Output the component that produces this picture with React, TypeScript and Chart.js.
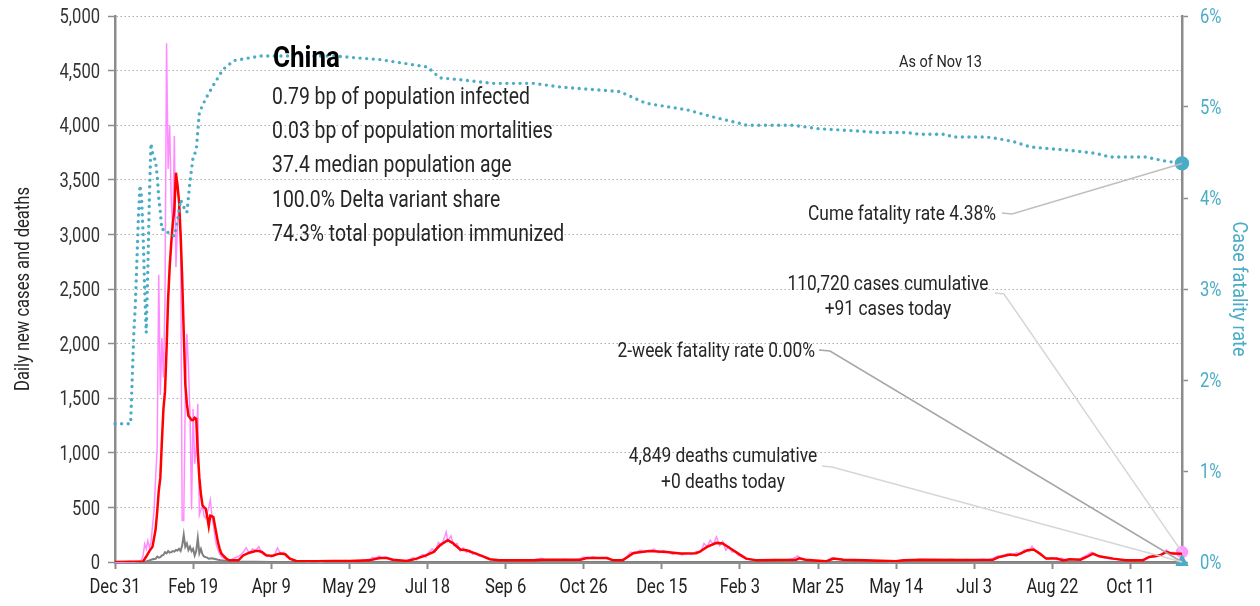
import React, { useEffect, useRef } from 'react';
import { Chart, registerables } from 'chart.js';

Chart.register(...registerables);

const FONT = 'Roboto, "Liberation Sans", "DejaVu Sans", sans-serif';

// Day index 0 = Dec 31, 2019
const START_UTC = Date.UTC(2019, 11, 31);
const LAST_DAY = 683; // Nov 13, 2021
const MONTHS = ['Jan', 'Feb', 'Mar', 'Apr', 'May', 'Jun', 'Jul', 'Aug', 'Sep', 'Oct', 'Nov', 'Dec'];

const X_TICK_STEP = 50;
const Y_LEFT_MAX = 5000;
const Y_LEFT_STEP = 500;
const Y_RIGHT_MAX = 6;
const Y_RIGHT_STEP = 1;

// [day, daily new cases]
const dailyCases: [number, number][] = [
  [0, 0], [3, 2], [6, 0], [9, 4], [12, 2], [15, 6], [17, 18], [18, 60], [19, 165], [20, 120], [21, 195], [22, 130],
  [23, 180], [24, 330], [25, 470], [26, 770], [27, 1050], [28, 2630], [29, 1530], [30, 2050], [31, 1690], [32, 2400],
  [33, 4750], [34, 3600], [35, 4000], [36, 3300], [37, 3050], [38, 3900], [39, 2700], [40, 3100], [41, 3300], [42, 2950],
  [43, 380], [44, 380], [45, 1500], [46, 2090], [47, 1800], [48, 1350], [49, 480], [50, 1400], [51, 900], [52, 1050],
  [53, 1450], [54, 430], [55, 480], [56, 510], [57, 420], [58, 400], [59, 450], [60, 500], [61, 570], [62, 430],
  [63, 340], [64, 230], [65, 150], [66, 110], [67, 75], [68, 50], [69, 40], [70, 30], [72, 20], [74, 15], [76, 35],
  [78, 45], [80, 60], [82, 90], [84, 130], [86, 80], [88, 120], [90, 105], [92, 140], [94, 85], [96, 60], [98, 70],
  [100, 45], [102, 60], [104, 130], [106, 75], [108, 90], [110, 45], [112, 25], [114, 15], [117, 5], [120, 10],
  [124, 4], [128, 8], [132, 3], [136, 12], [140, 6], [144, 10], [148, 14], [152, 5], [156, 10], [160, 18], [163, 25],
  [165, 45], [167, 30], [169, 55], [171, 35], [173, 45], [175, 30], [177, 15], [180, 10], [183, 8], [186, 12],
  [189, 25], [191, 40], [193, 20], [195, 50], [197, 70], [199, 45], [201, 90], [203, 120], [205, 95], [207, 180],
  [209, 150], [211, 230], [212, 275], [213, 190], [215, 240], [217, 150], [219, 170], [221, 100], [223, 130],
  [225, 90], [227, 110], [229, 70], [231, 85], [233, 55], [235, 60], [237, 35], [240, 25], [243, 15], [246, 20],
  [250, 10], [254, 18], [258, 12], [262, 20], [266, 10], [270, 25], [273, 35], [276, 15], [280, 22], [284, 18],
  [288, 25], [292, 15], [296, 22], [300, 45], [303, 30], [306, 50], [309, 35], [312, 40], [315, 30], [318, 15],
  [321, 12], [324, 20], [327, 40], [330, 90], [333, 75], [336, 110], [339, 95], [342, 100], [345, 120], [348, 85],
  [351, 105], [354, 90], [357, 70], [360, 85], [363, 65], [366, 80], [369, 70], [372, 95], [375, 90], [377, 170],
  [379, 140], [381, 200], [383, 160], [385, 230], [387, 150], [389, 190], [391, 110], [393, 140], [395, 90],
  [397, 100], [399, 60], [401, 50], [404, 30], [407, 20], [410, 15], [414, 18], [418, 10], [422, 22], [426, 15],
  [430, 20], [434, 30], [437, 55], [440, 25], [444, 15], [448, 10], [452, 5], [456, 12], [459, 40], [462, 25],
  [465, 30], [468, 15], [472, 20], [476, 10], [480, 18], [485, 8], [490, 12], [495, 5], [500, 10], [505, 20],
  [510, 15], [515, 25], [520, 18], [525, 22], [530, 15], [535, 25], [540, 18], [545, 22], [550, 15], [555, 25],
  [559, 20], [562, 35], [565, 55], [568, 45], [571, 75], [574, 60], [577, 85], [580, 70], [582, 110], [585, 95],
  [587, 145], [589, 100], [591, 90], [593, 60], [595, 45], [597, 25], [600, 40], [603, 20], [606, 35], [609, 15],
  [612, 30], [615, 20], [618, 30], [621, 55], [623, 70], [625, 90], [627, 65], [629, 60], [632, 40], [635, 35],
  [638, 25], [641, 30], [644, 15], [648, 20], [652, 10], [656, 15], [660, 35], [663, 50], [666, 45], [669, 65],
  [671, 80], [673, 110], [675, 70], [677, 90], [679, 75], [681, 85], [683, 91],
];

// [day, 7-day average of new cases]
const cases7dAvg: [number, number][] = [
  [0, 0], [10, 2], [18, 5], [20, 50], [22, 100], [24, 140], [26, 300], [27, 460], [28, 650], [29, 770], [30, 1100],
  [31, 1400], [32, 1560], [33, 1950], [34, 2410], [35, 2700], [36, 2920], [37, 3100], [38, 3230], [39, 3565],
  [40, 3450], [41, 3300], [42, 3000], [43, 2600], [44, 2100], [45, 1625], [46, 1450], [47, 1340], [48, 1320],
  [49, 1300], [50, 1300], [51, 1320], [52, 1310], [53, 1000], [54, 770], [55, 620], [56, 520], [57, 500], [58, 490],
  [59, 420], [60, 330], [61, 425], [62, 420], [63, 410], [64, 330], [65, 250], [66, 175], [67, 120], [68, 80],
  [69, 63], [71, 35], [73, 16], [76, 15], [79, 15], [82, 60], [86, 85], [90, 100], [92, 100], [94, 92], [97, 60],
  [101, 58], [104, 72], [106, 78], [109, 71], [112, 31], [116, 9], [129, 6], [140, 9], [150, 9], [163, 15],
  [167, 30], [170, 37], [174, 37], [178, 21], [187, 9], [193, 31], [199, 60], [204, 92], [208, 153], [213, 200],
  [216, 175], [221, 114], [225, 107], [231, 77], [236, 50], [240, 25], [246, 15], [268, 15], [274, 21], [298, 21],
  [302, 37], [315, 37], [319, 15], [325, 15], [332, 83], [342, 101], [353, 92], [362, 77], [372, 80], [374, 92],
  [379, 138], [385, 175], [389, 169], [394, 123], [399, 77], [404, 31], [411, 15], [436, 21], [438, 34], [442, 20],
  [455, 6], [460, 31], [466, 21], [480, 15], [500, 6], [505, 15], [517, 21], [540, 18], [562, 21], [566, 46],
  [573, 68], [577, 61], [584, 107], [588, 114], [592, 77], [596, 31], [603, 31], [607, 15], [611, 25], [618, 21],
  [622, 46], [626, 77], [630, 52], [639, 31], [647, 15], [658, 15], [662, 46], [669, 61], [673, 92], [677, 77],
  [683, 75],
];

// [day, daily new deaths]
const dailyDeaths: [number, number][] = [
  [0, 0], [10, 0], [18, 2], [20, 5], [22, 15], [24, 25], [26, 30], [27, 50], [28, 40], [29, 45], [30, 60], [31, 65],
  [32, 90], [33, 80], [34, 100], [35, 85], [36, 90], [37, 100], [38, 95], [39, 110], [40, 105], [41, 120], [42, 100],
  [43, 150], [44, 250], [45, 140], [46, 170], [47, 110], [48, 140], [49, 100], [50, 120], [51, 60], [52, 100],
  [53, 220], [54, 80], [55, 120], [56, 70], [57, 50], [58, 45], [59, 40], [60, 30], [62, 35], [64, 28], [66, 20],
  [68, 15], [70, 12], [72, 8], [74, 5], [76, 4], [80, 3], [90, 2], [100, 1], [683, 0],
];

// [day, cumulative case fatality rate %]
const cumeFatalityPct: [number, number][] = [
  [0, 1.52], [10, 1.52], [11, 2.0], [12, 2.5], [13, 2.82], [14, 3.3], [15, 3.8], [16, 4.14], [17, 4.0], [18, 3.6],
  [19, 3.0], [20, 2.52], [21, 3.2], [22, 4.0], [23, 4.6], [24, 4.5], [25, 4.45], [26, 4.4], [27, 4.25], [28, 4.0],
  [29, 3.85], [30, 3.65], [32, 3.66], [34, 3.62], [36, 3.6], [38, 3.58], [40, 3.75], [42, 3.98], [44, 3.9],
  [46, 3.84], [48, 4.18], [50, 4.45], [52, 4.52], [54, 4.94], [58, 5.09], [63, 5.24], [69, 5.41], [76, 5.51],
  [93, 5.56], [140, 5.56], [170, 5.52], [200, 5.44], [208, 5.32], [221, 5.3], [242, 5.26], [268, 5.26],
  [285, 5.22], [323, 5.17], [340, 5.04], [366, 4.97], [383, 4.89], [400, 4.82], [404, 4.8], [434, 4.8],
  [451, 4.76], [472, 4.74], [488, 4.72], [507, 4.72], [515, 4.7], [532, 4.7], [536, 4.67], [558, 4.67],
  [566, 4.65], [575, 4.62], [586, 4.56], [600, 4.54], [613, 4.52], [628, 4.49], [637, 4.45], [660, 4.45],
  [671, 4.41], [683, 4.38],
];

// [day, 2-week fatality rate %]
const twoWeekFatalityPct: [number, number][] = [[683, 0]];

const COUNTRY = 'China';
const statLines = [
  '0.79 bp of population infected',
  '0.03 bp of population mortalities',
  '37.4 median population age',
  '100.0% Delta variant share',
  '74.3% total population immunized',
];
const asOfLabel = 'As of Nov 13';
const cumeLabel = 'Cume fatality rate 4.38%';
const casesLabel = ['110,720 cases cumulative', '+91 cases today'];
const twoWeekLabel = '2-week fatality rate 0.00%';
const deathsLabel = ['4,849 deaths cumulative', '+0 deaths today'];
const leftTitle = 'Daily new cases and deaths';
const rightTitle = 'Case fatality rate';

const TEAL = '#4BACC6';
const PINK = '#FF8CFF';
const RED = '#FF0000';
const GRAY = '#7F7F7F';
const AXIS = '#8C8C8C';
const TEXT = '#262626';

const toXY = (arr: [number, number][]) => arr.map(([x, y]) => ({ x, y }));

const dayLabel = (d: number) => {
  const dt = new Date(START_UTC + d * 86400000);
  return `${MONTHS[dt.getUTCMonth()]} ${dt.getUTCDate()}`;
};

// Draws condensed text. y is the vertical centre of the capitals.
const drawText = (
  ctx: CanvasRenderingContext2D,
  text: string,
  x: number,
  y: number,
  size: number,
  condense: number,
  align: 'left' | 'right' | 'center' = 'left',
  color = TEXT,
  weight = 'normal',
) => {
  ctx.save();
  ctx.font = `${weight} ${size}px ${FONT}`;
  ctx.fillStyle = color;
  ctx.textAlign = 'left';
  ctx.textBaseline = 'alphabetic';
  const w = ctx.measureText(text).width * condense;
  const x0 = align === 'left' ? x : align === 'right' ? x - w : x - w / 2;
  ctx.translate(x0, y + size * 0.355);
  ctx.scale(condense, 1);
  ctx.fillText(text, 0, 0);
  ctx.restore();
};

const fitFactor = (ctx: CanvasRenderingContext2D, text: string, size: number, target: number, weight = 'normal') => {
  ctx.save();
  ctx.font = `${weight} ${size}px ${FONT}`;
  const w = ctx.measureText(text).width;
  ctx.restore();
  return w > 0 ? target / w : 0.84;
};

const overlayPlugin = {
  id: 'overlay',
  afterDatasetsDraw(chart: any) {
    const { ctx } = chart;
    const xs = chart.scales.x;
    const yl = chart.scales.y;
    const yr = chart.scales.y1;
    const ex = xs.getPixelForValue(LAST_DAY);
    const lastCases = dailyCases[dailyCases.length - 1][1];
    const lastCume = cumeFatalityPct[cumeFatalityPct.length - 1][1];
    const lastTwoWeek = twoWeekFatalityPct[twoWeekFatalityPct.length - 1][1];
    const lastDeaths = dailyDeaths[dailyDeaths.length - 1][1];

    ctx.save();
    const leader = (x0: number, x1: number, y: number, tx: number, ty: number, color: string) => {
      ctx.beginPath();
      ctx.strokeStyle = color;
      ctx.lineWidth = 1.5;
      ctx.moveTo(x0, y);
      ctx.lineTo(x1, y + 1);
      ctx.lineTo(tx, ty);
      ctx.stroke();
    };
    leader(1002, 1012, 213, ex, yr.getPixelForValue(lastCume), '#BFBFBF');
    leader(995, 1004, 293, ex, yl.getPixelForValue(lastCases), '#D6D6D6');
    leader(819, 830, 350, ex, yr.getPixelForValue(lastTwoWeek), '#A6A6A6');
    leader(822, 832, 466, ex, yl.getPixelForValue(lastDeaths), '#D6D6D6');
    ctx.restore();

    const kAnno = fitFactor(ctx, cumeLabel, 21, 188);
    const kStats = fitFactor(ctx, statLines[0], 24, 258);

    drawText(ctx, COUNTRY, 273, 56, 30, fitFactor(ctx, COUNTRY, 30, 67, 'bold'), 'left', '#000', 'bold');
    statLines.forEach((s, i) => drawText(ctx, s, 272, 95 + i * 34.4, 24, kStats));
    drawText(ctx, asOfLabel, 899, 61, 17, fitFactor(ctx, asOfLabel, 17, 83));

    drawText(ctx, cumeLabel, 996, 213, 21, kAnno, 'right');
    drawText(ctx, twoWeekLabel, 815, 350, 21, kAnno, 'right');
    drawText(ctx, casesLabel[0], 888, 283, 21, kAnno, 'center');
    drawText(ctx, casesLabel[1], 888, 308, 21, kAnno, 'center');
    drawText(ctx, deathsLabel[0], 723, 455, 21, kAnno, 'center');
    drawText(ctx, deathsLabel[1], 723, 481, 21, kAnno, 'center');

    // tick labels
    xs.ticks.forEach((t: any) => {
      drawText(ctx, dayLabel(Number(t.value)), xs.getPixelForValue(t.value), 586, 20, kAnno, 'center', '#222');
    });
    yl.ticks.forEach((t: any) => {
      drawText(ctx, Number(t.value).toLocaleString('en-US'), 100, yl.getPixelForValue(t.value), 20, kAnno, 'right', '#333');
    });
    yr.ticks.forEach((t: any) => {
      drawText(ctx, `${t.value}%`, 1200, yr.getPixelForValue(t.value), 20, kAnno, 'left', TEAL);
    });

    // axis titles
    ctx.save();
    ctx.translate(22, 289);
    ctx.rotate(-Math.PI / 2);
    drawText(ctx, leftTitle, 0, 0, 20, kAnno, 'center', TEXT);
    ctx.restore();

    ctx.save();
    ctx.translate(1240, 289);
    ctx.rotate(Math.PI / 2);
    drawText(ctx, rightTitle, 0, 0, 21, fitFactor(ctx, rightTitle, 21, 135), 'center', TEAL);
    ctx.restore();
  },
};

export default function App() {
  const ref = useRef<HTMLCanvasElement | null>(null);

  useEffect(() => {
    if (!ref.current) return;
    const lastIdx = (arr: any[]) => arr.length - 1;
    const chart = new Chart(ref.current, {
      type: 'line',
      data: {
        datasets: [
          {
            label: '2-week fatality rate',
            data: toXY(twoWeekFatalityPct),
            yAxisID: 'y1',
            showLine: false,
            pointStyle: 'triangle',
            pointRadius: 7,
            pointBackgroundColor: TEAL,
            pointBorderColor: TEAL,
            clip: false,
          },
          {
            label: 'Cume fatality rate',
            data: toXY(cumeFatalityPct),
            yAxisID: 'y1',
            borderColor: TEAL,
            borderWidth: 3.4,
            borderDash: [0, 6.6],
            borderCapStyle: 'round',
            pointRadius: (c: any) => (c.dataIndex === lastIdx(cumeFatalityPct) ? 5.5 : 0),
            pointBackgroundColor: TEAL,
            pointBorderColor: TEAL,
            tension: 0,
            clip: false,
          },
          {
            label: '7-day average cases',
            data: toXY(cases7dAvg),
            yAxisID: 'y',
            borderColor: RED,
            borderWidth: 2.5,
            pointRadius: 0,
            tension: 0,
          },
          {
            label: 'Daily deaths',
            data: toXY(dailyDeaths),
            yAxisID: 'y',
            borderColor: GRAY,
            borderWidth: 2,
            pointRadius: 0,
            tension: 0,
          },
          {
            label: 'Daily cases',
            data: toXY(dailyCases),
            yAxisID: 'y',
            borderColor: PINK,
            borderWidth: 1.5,
            pointRadius: (c: any) => (c.dataIndex === lastIdx(dailyCases) ? 5.5 : 0),
            pointBackgroundColor: '#FF99FF',
            pointBorderColor: '#FF99FF',
            tension: 0,
            clip: false,
          },
        ],
      },
      options: {
        responsive: false,
        animation: false,
        devicePixelRatio: 1,
        layout: { padding: { top: 16, left: 0, right: 0, bottom: 0 } },
        plugins: { legend: { display: false }, tooltip: { enabled: false }, title: { display: false } },
        scales: {
          x: {
            type: 'linear',
            min: 0,
            max: LAST_DAY,
            afterFit: (s: any) => { s.height = 44; },
            ticks: {
              display: false,
              stepSize: X_TICK_STEP,
              includeBounds: false,
              autoSkip: false,
              maxRotation: 0,
            },
            grid: { drawOnChartArea: false, drawTicks: true, tickLength: 7, tickColor: AXIS, tickWidth: 2 },
            border: { display: true, color: AXIS, width: 3 },
          },
          y: {
            type: 'linear',
            position: 'left',
            min: 0,
            max: Y_LEFT_MAX,
            afterFit: (s: any) => { s.width = 115; },
            ticks: { display: false, stepSize: Y_LEFT_STEP },
            grid: { color: '#ABABAB', lineWidth: 1, tickColor: AXIS, tickLength: 7, tickWidth: 1.5 },
            border: { display: true, color: AXIS, width: 2.5, dash: [1.5, 2.5] },
          },
          y1: {
            type: 'linear',
            position: 'right',
            min: 0,
            max: Y_RIGHT_MAX,
            afterFit: (s: any) => { s.width = 78; },
            ticks: { display: false, stepSize: Y_RIGHT_STEP },
            grid: { drawOnChartArea: false, tickColor: AXIS, tickLength: 6, tickWidth: 1.5 },
            border: { display: true, color: AXIS, width: 2.5 },
          },
        },
      },
      plugins: [overlayPlugin],
    } as any);
    return () => chart.destroy();
  }, []);

  return (
    <div style={{ position: 'absolute', left: 0, top: 0, width: 1260, height: 606, background: '#fff' }}>
      <canvas ref={ref} width={1260} height={606} />
    </div>
  );
}
